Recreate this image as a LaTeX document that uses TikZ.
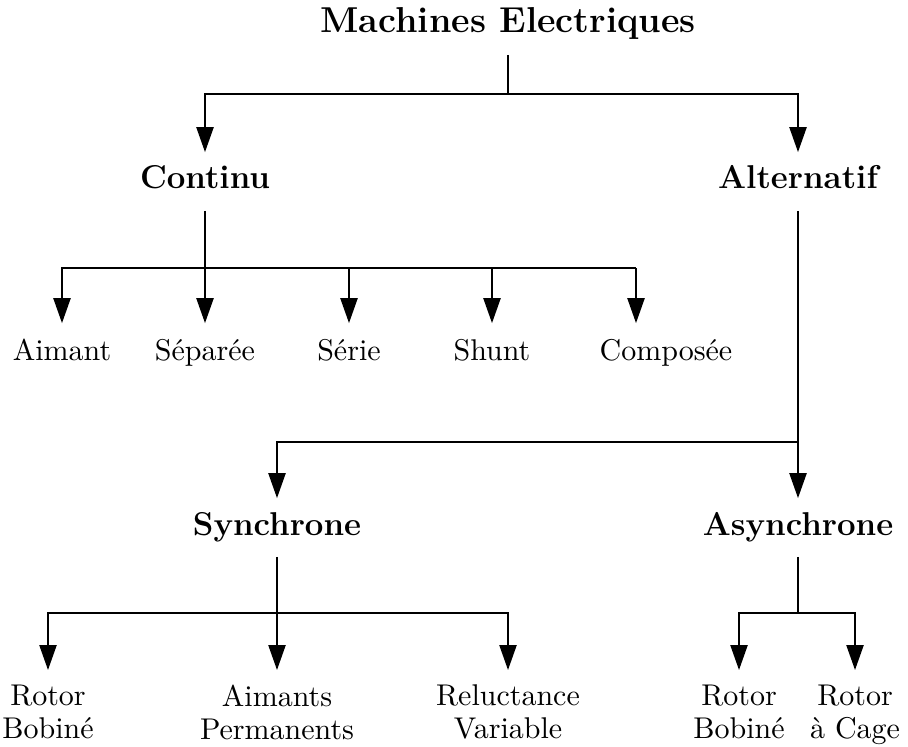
\documentclass[tikz,border=0pt]{standalone}
\usetikzlibrary{arrows.meta}

\begin{document}
\begin{tikzpicture}[x=0.01172cm, y=-0.01172cm, line width=0.6pt,
    lbl/.style={text height=7.3pt, text depth=2.3pt, inner ysep=4.7pt, anchor=base},
    cat/.style={lbl, font=\fontsize{11}{13}\selectfont\bfseries},
    leaf/.style={lbl},
    leafb/.style={align=center, inner ysep=4.7pt, anchor=north, font=\fontsize{10}{11}\selectfont},
    arr/.style={-{Triangle[width=5.7pt,length=8.3pt]}}]
  \useasboundingbox (0,0) rectangle (908,746);

  % niveaux
  \node[lbl, font=\large\bfseries] (me) at (508,33) {Machines Electriques};
  \node[cat] (cont) at (205,189) {Continu};
  \node[cat] (alt) at (798,189) {Alternatif};
  \foreach \n/\x/\t in {aim/62/Aimant, sep/205/Séparée, ser/349/Série, shu/492/Shunt}
    \node[leaf] (\n) at (\x,360) {\t};
  \node[leaf] (comp) at (666,360) {Composée};
  \node[cat] (sync) at (277,535) {Synchrone};
  \node[cat] (async) at (798,535) {Asynchrone};
  \node[leafb] (rb1) at (48,670) {Rotor\\Bobiné};
  \node[leafb] (perm) at (277,670) {Aimants\\Permanents};
  \node[leafb] (rel) at (508,670) {Reluctance\\Variable};
  \node[leafb] (rb2) at (739,670) {Rotor\\Bobiné};
  \node[leafb] (cage) at (855,670) {Rotor\\à Cage};

  % jonctions
  \coordinate (j0) at (508,94);
  \coordinate (j1) at (205,268);
  \coordinate (j2) at (798,442);
  \coordinate (j3) at (277,613);
  \coordinate (j4) at (798,613);
  \coordinate (c5) at (636,268);

  \draw (me) -- (j0);
  \draw[arr] (j0) -| (cont);
  \draw[arr] (j0) -| (alt);

  \draw[arr] (cont) -- (sep);
  \foreach \n in {aim,ser,shu}
    \draw[arr] (j1) -| (\n);
  \draw (j1) -- (c5);
  \draw[arr] (c5) -- (c5 |- comp.north);

  \draw[arr] (alt) -- (async);
  \draw[arr] (j2) -| (sync);

  \draw[arr] (sync) -- (perm);
  \draw[arr] (j3) -| (rb1);
  \draw[arr] (j3) -| (rel);

  \draw (async) -- (j4);
  \draw[arr] (j4) -| (rb2);
  \draw[arr] (j4) -| (cage);
\end{tikzpicture}
\end{document}
